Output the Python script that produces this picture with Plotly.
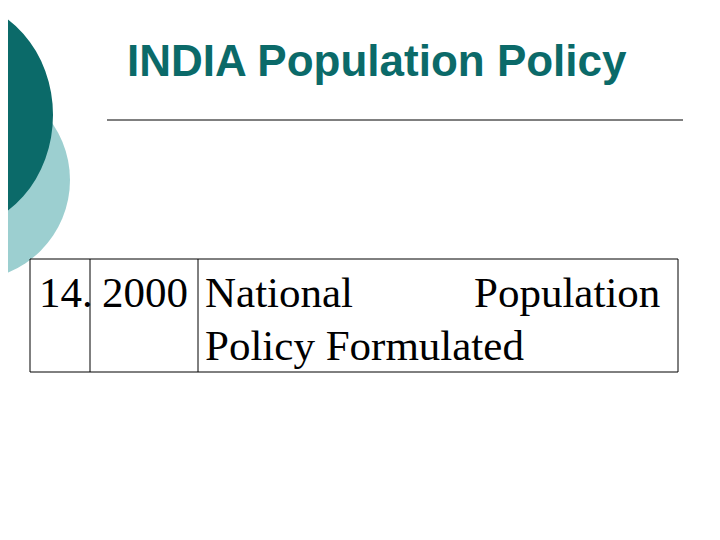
import plotly.graph_objects as go

title = "INDIA Population Policy"
row_no = ["14."]
row_year = ["2000"]
row_line1 = ["National", "Population"]
row_line2 = ["Policy Formulated"]

teal = "#0B6A69"
light = "#9CCFD0"
serif = "Liberation Serif, Times New Roman, serif"
dx, dy = -8, -8  # page body offset

fig = go.Figure()
shapes = [
    dict(type="circle", x0=-130, x1=70, y0=80, y1=280, fillcolor=light, line_width=0, layer="below"),
    dict(type="circle", x0=-150, x1=53, y0=0, y1=230, fillcolor=teal, line_width=0, layer="below"),
    dict(type="line", x0=107, x1=683, y0=120, y1=120, line=dict(color="black", width=1)),
    dict(type="rect", x0=30, x1=678, y0=259, y1=372, line=dict(color="black", width=1)),
    dict(type="line", x0=90, x1=90, y0=259, y1=372, line=dict(color="black", width=1)),
    dict(type="line", x0=198, x1=198, y0=259, y1=372, line=dict(color="black", width=1)),
]
for s in shapes:
    s["x0"] += dx; s["x1"] += dx; s["y0"] += dy; s["y1"] += dy

ann = [
    dict(x=377, y=60, text="<b>" + title + "</b>", font=dict(family="Liberation Sans, Arial", size=44, color=teal)),
    dict(x=37, y=292, text=row_no[0], xanchor="left", font=dict(family=serif, size=43, color="black")),
    dict(x=100, y=292, text=row_year[0], xanchor="left", font=dict(family=serif, size=43, color="black")),
    dict(x=203, y=292, text=row_line1[0], xanchor="left", font=dict(family=serif, size=43, color="black")),
    dict(x=662, y=292, text=row_line1[1], xanchor="right", font=dict(family=serif, size=43, color="black")),
    dict(x=203, y=345, text=row_line2[0], xanchor="left", font=dict(family=serif, size=43, color="black")),
]
for a in ann:
    a.update(xref="x", yref="y", showarrow=False, yanchor="middle")
    a["x"] += dx; a["y"] += dy

fig.update_layout(
    width=720, height=540, margin=dict(l=0, r=0, t=0, b=0),
    paper_bgcolor="white", plot_bgcolor="white",
    xaxis=dict(range=[0, 720], visible=False, fixedrange=True),
    yaxis=dict(range=[540, 0], visible=False, fixedrange=True),
    shapes=shapes, annotations=ann, showlegend=False,
)
fig.write_html("out.html")
